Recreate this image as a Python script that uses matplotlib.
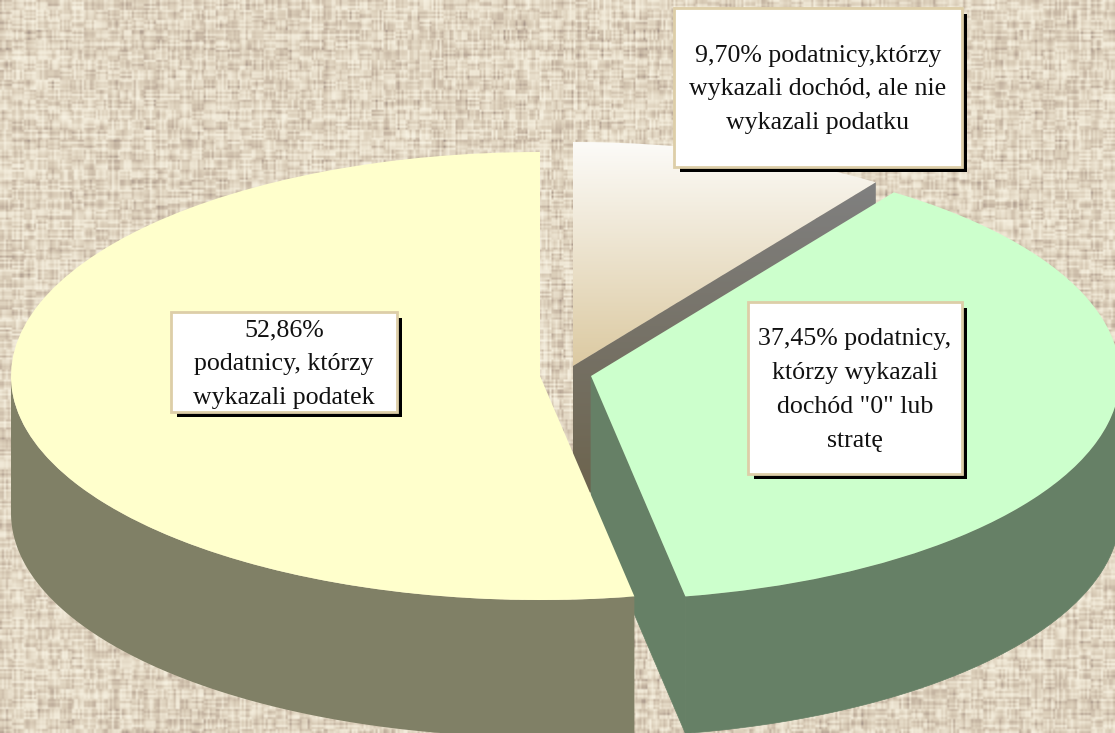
import matplotlib
matplotlib.use('Agg')
import matplotlib.pyplot as plt
import numpy as np
from matplotlib.patches import Polygon, Rectangle, Wedge
from matplotlib.transforms import Affine2D
from matplotlib.colors import LinearSegmentedColormap

# dane
shares = [52.86, 37.45, 9.70]
labels = ['52,86%\npodatnicy, którzy\nwykazali podatek',
          '37,45% podatnicy,\nktórzy wykazali\ndochód "0" lub\nstratę',
          '9,70% podatnicy,którzy\nwykazali dochód, ale nie\nwykazali podatku']

# wyglad
W, H = 1115, 733
RX, RY, DEPTH = 529, 224, 137
centers = [(540, 376), (591, 376), (573, 366)]
top_colors = ['#FFFFCC', '#CCFFCC', None]
wall_colors = ['#808066', '#668066', None]
boxes = [(171, 312, 226, 100), (748, 302, 214, 172), (674, 8, 288, 159)]

plt.rcParams['font.family'] = ['Liberation Serif', 'DejaVu Serif']
fig = plt.figure(figsize=(W / 100, H / 100), dpi=100)
ax = fig.add_axes([0, 0, 1, 1])


def streaks(a, b):
    # nitki lnu: kazda nitka ma swoje odcinki jasne i ciemne
    v = np.sin(a * 12.9898 + b * 78.233) * 43758.5453
    return v - np.floor(v)


def texture():
    # tlo - splot lniany
    sx, sy = np.meshgrid(np.arange(W // 2 + 1), np.arange(H // 2 + 1))
    vert = streaks(sx, sy // 5) - 0.5
    horiz = streaks(sy + 400, sx // 6) - 0.5
    col = streaks(sx + 900, 0 * sy) - 0.5
    row = streaks(sy + 1500, 0 * sx) - 0.5
    t = 0.58 + 0.34 * vert + 0.34 * horiz + 0.17 * col + 0.17 * row
    return np.clip(t, 0, 1)


linen = LinearSegmentedColormap.from_list('linen', ['#8A7A74', '#BFAE9C', '#DACDB8', '#EFE7D5', '#F8F3E4'])
ax.imshow(texture(), cmap=linen, vmin=0, vmax=1, extent=(0, W, H, 0), aspect='auto', zorder=0, interpolation='bilinear')


def squash(cx, cy):
    return Affine2D().scale(RX, -RY).translate(cx, cy) + ax.transData


def point(center, angle):
    a = np.radians(angle)
    return center[0] + RX * np.cos(a), center[1] - RY * np.sin(a)


def arc_wall(center, a1, a2):
    angs = np.linspace(a1, a2, 120)
    pts = np.array([point(center, a) for a in angs])
    low = pts + [0, DEPTH]
    return np.vstack([pts, low[::-1]])


def gradient(c1, c2, y1, y2, clip, z):
    cm = LinearSegmentedColormap.from_list('g', [c1, c2])
    im = ax.imshow(np.linspace(0, 1, 256)[:, None], cmap=cm, extent=(0, W, y2, y1), aspect='auto', zorder=z)
    im.set_clip_path(clip)


# katy wycinkow, od gory przeciwnie do zegara
angles = 90 + np.cumsum([0] + shares) / sum(shares) * 360

# beige slice (3rd), na spodzie
c = centers[2]
w = Wedge((0, 0), 1, angles[2], angles[3], transform=squash(*c), fc='none', ec='none', zorder=1)
ax.add_patch(w)
gradient('#FCFBF8', '#DCCAA2', c[1] - RY, c[1], w, 1)
end = point(c, angles[2])
cut = Polygon([c, end, (end[0], end[1] + DEPTH), (c[0], c[1] + DEPTH)], fc='none', ec='none', zorder=2)
ax.add_patch(cut)
gradient('#808080', '#6C634C', end[1], c[1] + DEPTH, cut, 2)

# green
c = centers[1]
p = point(c, angles[1])
ax.add_patch(Polygon([c, p, (p[0], p[1] + DEPTH), (c[0], c[1] + DEPTH)], fc=wall_colors[1], ec=wall_colors[1], lw=0.5, zorder=3))
ax.add_patch(Polygon(arc_wall(c, angles[1], 360), fc=wall_colors[1], ec=wall_colors[1], lw=0.5, zorder=3))
ax.add_patch(Wedge((0, 0), 1, angles[1], angles[2], transform=squash(*c), fc=top_colors[1], ec='none', zorder=4))

# yellow
c = centers[0]
ax.add_patch(Polygon(arc_wall(c, 180, angles[1]), fc=wall_colors[0], ec='none', zorder=5))
ax.add_patch(Wedge((0, 0), 1, angles[0], angles[1], transform=squash(*c), fc=top_colors[0], ec='none', zorder=6))

# etykiety
for (x, y, bw, bh), txt in zip(boxes, labels):
    ax.add_patch(Rectangle((x + 6, y + 6), bw - 1, bh - 1, fc='black', ec='none', zorder=7))
    ax.add_patch(Rectangle((x, y), bw, bh, fc='white', ec='#DDCEA8', lw=2, zorder=8))
    ax.text(x + bw / 2, y + bh / 2 + 2, txt, ha='center', va='center', fontsize=18.6, color='#111111',
            linespacing=1.7, zorder=9)

ax.set_xlim(0, W)
ax.set_ylim(H, 0)
ax.axis('off')
fig.savefig('out.png', dpi=100)
